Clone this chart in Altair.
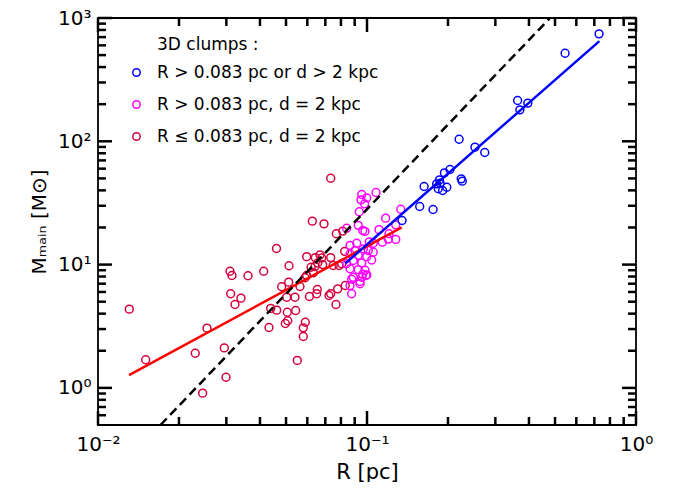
import altair as alt
import pandas as pd

# ---- data (R in pc, M in solar masses) ----
red_R = [0.01307, 0.01504, 0.02542, 0.02299, 0.02948, 0.02991, 0.02449, 0.03095, 0.03148, 0.03113,
         0.03400, 0.03230, 0.03611, 0.04130, 0.04608, 0.05129, 0.04818, 0.05116, 0.05030, 0.05398,
         0.04385, 0.04616, 0.05056, 0.05431, 0.04970, 0.05073, 0.04322, 0.05506, 0.07330, 0.06261,
         0.06920, 0.07688, 0.08121, 0.05967, 0.06424, 0.06688, 0.06786, 0.07330, 0.06844, 0.06407,
         0.07866, 0.08260, 0.05634, 0.05967, 0.06319, 0.06196, 0.06107, 0.06535, 0.06501, 0.07223,
         0.07330, 0.07780, 0.08300, 0.07668, 0.05896, 0.05796, 0.05796, 0.07490, 0.08053, 0.06558,
         0.05881]
red_M = [4.35, 1.69, 3.05, 1.91, 2.11, 1.22, 0.906, 8.84, 8.16, 5.80,
         5.34, 4.75, 8.11, 8.84, 13.5, 9.78, 6.61, 7.20, 5.44, 5.44,
         4.41, 4.27, 4.11, 4.24, 3.33, 3.50, 3.09, 1.67, 50.2, 22.5,
         21.4, 17.8, 18.7, 11.6, 11.4, 12.0, 11.3, 11.4, 10.0, 9.65,
         9.84, 12.8, 6.64, 8.16, 8.58, 9.52, 5.51, 6.28, 5.80, 5.62,
         5.80, 6.36, 6.77, 4.75, 3.41, 3.07, 2.61, 9.84, 10.15, 10.3,
         7.82]

mag_R = [0.0956, 0.0998, 0.1080, 0.0950, 0.0980, 0.0936, 0.1335, 0.1173, 0.0840, 0.0928,
         0.0964, 0.0983, 0.1108, 0.1279, 0.1279, 0.1200, 0.1140, 0.1055, 0.0916, 0.1020,
         0.0865, 0.0969, 0.1011, 0.0902, 0.0865, 0.0928, 0.0998, 0.1041, 0.0889, 0.0956,
         0.0865, 0.0928, 0.0983, 0.0889, 0.0956, 0.0998, 0.0942, 0.0865, 0.1055, 0.0840,
         0.1207, 0.0877, 0.0964, 0.0992, 0.0877, 0.0942]
mag_M = [37.0, 34.8, 38.4, 33.5, 31.1, 26.8, 28.1, 23.8, 19.7, 20.8,
         18.9, 18.6, 19.2, 21.0, 16.0, 16.1, 15.2, 14.9, 14.9, 15.3,
         14.3, 13.4, 13.0, 13.0, 12.2, 11.9, 11.6, 10.9, 10.8, 10.3,
         9.25, 9.1, 9.0, 7.9, 7.9, 8.25, 6.99, 6.77, 12.6, 10.15,
         17.8, 5.80, 8.35, 8.16, 7.6, 7.3]

blue_R = [0.729, 0.545, 0.363, 0.396, 0.370, 0.220, 0.252, 0.274, 0.2035, 0.194,
          0.186, 0.1815, 0.187, 0.163, 0.184, 0.191, 0.198, 0.224, 0.226, 0.157,
          0.176, 0.135]
blue_M = [744, 518, 214, 204, 180, 104, 89.6, 81.1, 59.1, 55.5,
          48.7, 45.2, 45.7, 43.0, 41.2, 39.9, 42.4, 49.6, 47.5, 29.6,
          28.0, 22.8]

# fit lines (end points)
red_fit_R = [0.01304, 0.1346]
red_fit_M = [1.27, 20.0]
blue_fit_R = [0.083, 0.731]
blue_fit_M = [10.2, 649]
dash_R = [0.01707, 0.479]
dash_M = [0.5, 1000]

group_labels = ["R > 0.083 pc or d > 2 kpc", "R > 0.083 pc, d = 2 kpc", "R \u2264 0.083 pc, d = 2 kpc"]
group_colors = ["#0000ff", "#ff00ff", "#d4003a"]
legend_title = ["3D clumps :"]

x_major = [0.01, 0.1, 1]
x_minor = [0.02, 0.03, 0.04, 0.05, 0.06, 0.07, 0.08, 0.09,
           0.2, 0.3, 0.4, 0.5, 0.6, 0.7, 0.8, 0.9]
y_major = [1, 10, 100, 1000]
y_minor = [0.6, 0.7, 0.8, 0.9, 2, 3, 4, 5, 6, 7, 8, 9,
           20, 30, 40, 50, 60, 70, 80, 90, 200, 300, 400, 500, 600, 700, 800, 900]

# ---- frames ----
pts = pd.DataFrame({
    "R": red_R + mag_R + blue_R,
    "M": red_M + mag_M + blue_M,
    "grp": [group_labels[2]] * len(red_R) + [group_labels[1]] * len(mag_R) + [group_labels[0]] * len(blue_R),
})
red_df = pd.DataFrame({"R": red_fit_R, "M": red_fit_M})
blue_df = pd.DataFrame({"R": blue_fit_R, "M": blue_fit_M})
dash_df = pd.DataFrame({"R": dash_R, "M": dash_M})

W, H = 538, 407
FONT = "DejaVu Sans"
MAJ, MIN, TW = 14, 8, 2.5

xs = alt.Scale(type="log", domain=[0.01, 1], nice=False)
ys = alt.Scale(type="log", domain=[0.5, 1000], nice=False)

x_lab_axis = alt.Axis(
    orient="bottom", values=x_major, ticks=False, tickSize=0, domain=False, grid=False,
    labelExpr="datum.value < 0.05 ? '10\u207b\u00b2' : (datum.value < 0.5 ? '10\u207b\u00b9' : '10\u2070')",
    labelFontSize=20, labelFont=FONT, labelColor="black", labelPadding=9,
    labelFlush=False, labelOverlap=False,
    title="R [pc]", titleFont=FONT, titleFontSize=21, titleFontWeight="normal",
    titleColor="black", titlePadding=7,
)
y_lab_axis = alt.Axis(
    orient="left", values=y_major, ticks=False, tickSize=0, domain=False, grid=False,
    labelExpr="datum.value < 5 ? '10\u2070' : (datum.value < 50 ? '10\u00b9' : (datum.value < 500 ? '10\u00b2' : '10\u00b3'))",
    labelFontSize=20, labelFont=FONT, labelColor="black", labelPadding=7,
    labelFlush=False, labelOverlap=False,
    title="M\u2098\u2090\u1d62\u2099 [M\u2299]", titleFont=FONT, titleFontSize=20,
    titleFontWeight="normal", titleColor="black", titlePadding=8,
)


# inward tick marks on all four sides, placed by the scales from the tick lists
def xticks(values, length, top):
    df = pd.DataFrame({"R": values})
    y0 = 0 if top else H
    y1 = length if top else H - length
    return alt.Chart(df).mark_rule(color="black", strokeWidth=TW).encode(
        x=alt.X("R:Q", scale=xs), y=alt.value(y0), y2=alt.value(y1))


def yticks(values, length, right):
    df = pd.DataFrame({"M": values})
    x0 = W if right else 0
    x1 = W - length if right else length
    return alt.Chart(df).mark_rule(color="black", strokeWidth=TW).encode(
        y=alt.Y("M:Q", scale=ys), x=alt.value(x0), x2=alt.value(x1))


tick_layers = [
    xticks(x_major, MAJ, False), xticks(x_minor, MIN, False),
    xticks(x_major, MAJ, True), xticks(x_minor, MIN, True),
    yticks(y_major, MAJ, False), yticks(y_minor, MIN, False),
    yticks(y_major, MAJ, True), yticks(y_minor, MIN, True),
]

points = alt.Chart(pts).mark_point(shape="circle", filled=False, size=62, strokeWidth=1.5, opacity=1).encode(
    x=alt.X("R:Q", scale=xs, axis=x_lab_axis),
    y=alt.Y("M:Q", scale=ys, axis=y_lab_axis),
    color=alt.Color(
        "grp:N",
        scale=alt.Scale(domain=group_labels, range=group_colors),
        legend=alt.Legend(
            title=None,
            orient="none", legendX=30, legendY=46, padding=0,
            labelFont=FONT, labelFontSize=17, labelColor="black", labelOffset=12,
            labelLimit=500,
            symbolType="circle", symbolSize=55, symbolStrokeWidth=1.5,
            symbolFillColor="transparent", rowPadding=14,
        ),
    ),
)

title_text = alt.Chart(pd.DataFrame({"t": legend_title})).mark_text(
    align="left", baseline="middle", font=FONT, fontSize=17, color="black"
).encode(text="t:N", x=alt.value(59), y=alt.value(27))

red_line = alt.Chart(red_df).mark_line(color="#ff0000", strokeWidth=2.5, clip=True).encode(
    x=alt.X("R:Q", scale=xs), y=alt.Y("M:Q", scale=ys))
blue_line = alt.Chart(blue_df).mark_line(color="#0000ff", strokeWidth=2.5, clip=True).encode(
    x=alt.X("R:Q", scale=xs), y=alt.Y("M:Q", scale=ys))
dash_line = alt.Chart(dash_df).mark_line(color="black", strokeWidth=2.5, strokeDash=[9, 5], clip=True).encode(
    x=alt.X("R:Q", scale=xs), y=alt.Y("M:Q", scale=ys))

chart = alt.layer(points, red_line, blue_line, dash_line, *tick_layers, title_text).properties(
    width=W, height=H,
    autosize=alt.AutoSizeParams(type="none"),
    padding={"left": 90, "top": 10, "right": 42, "bottom": 57},
).configure_view(stroke="black", strokeWidth=1.8)

chart.save("out.html", embed_options={"renderer": "svg", "actions": False})
